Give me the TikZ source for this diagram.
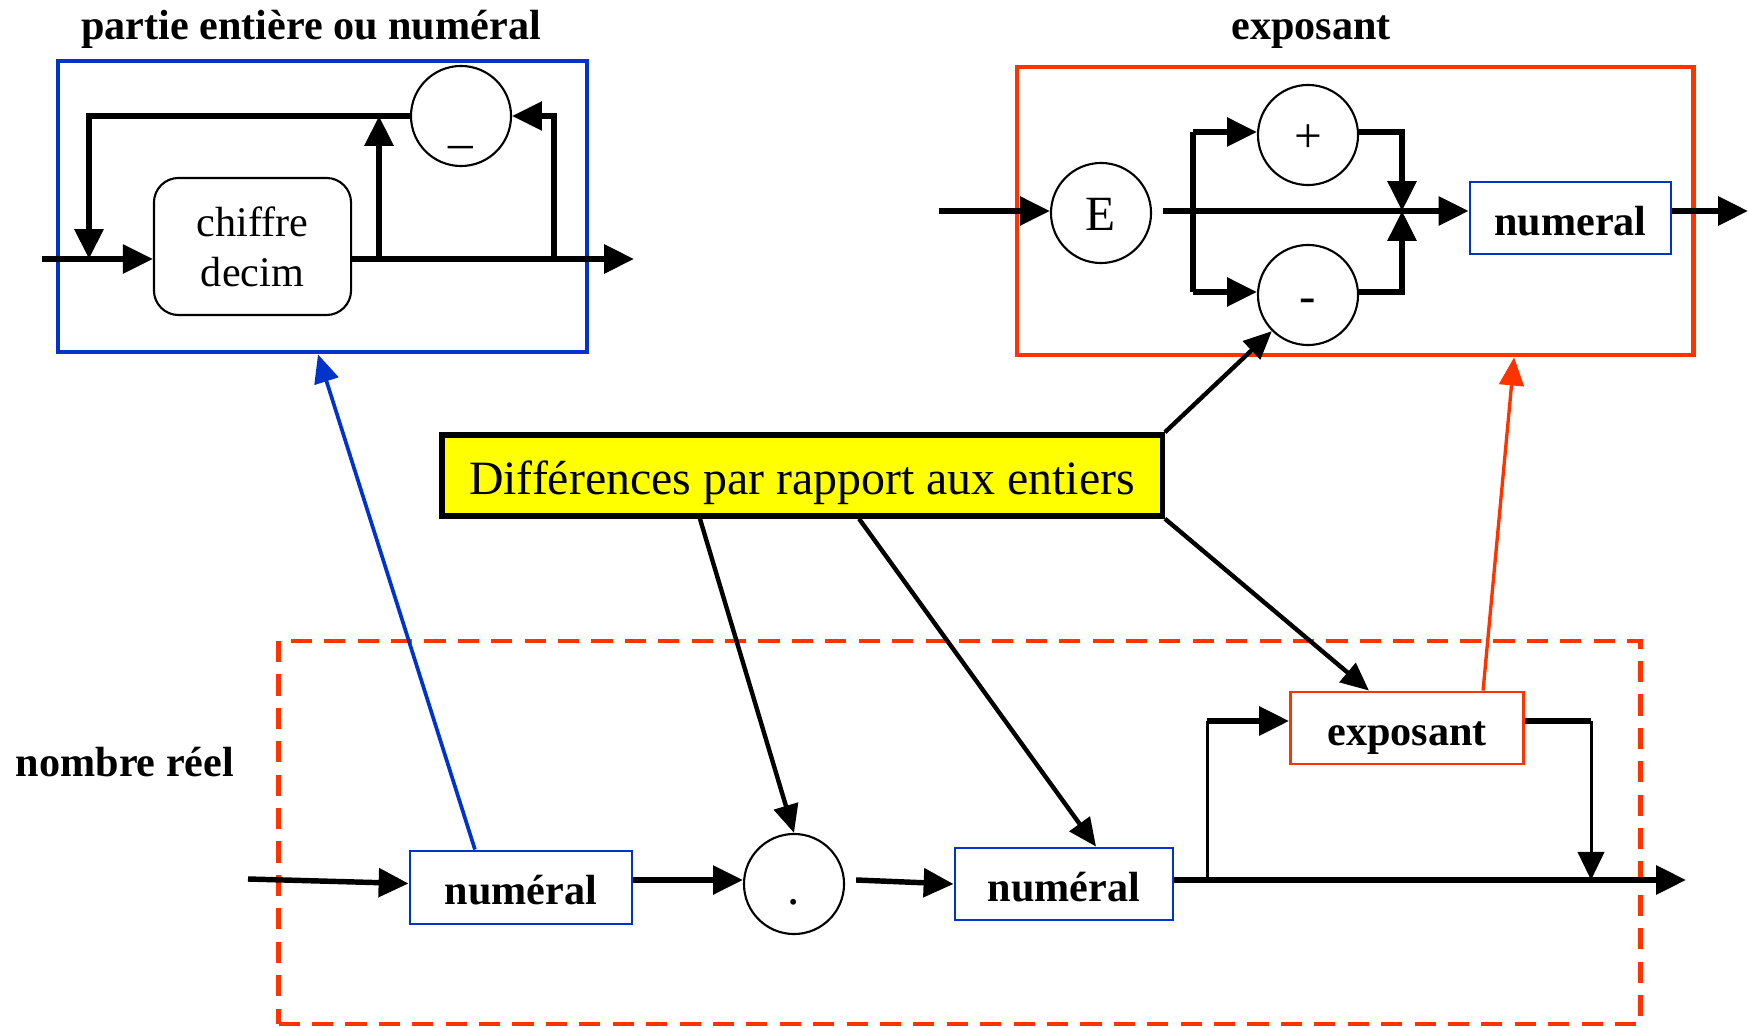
\documentclass[tikz,border=0pt]{standalone}
\usepackage{fontspec}
\setmainfont{Liberation Serif}
\usetikzlibrary{arrows.meta}
\definecolor{frameblue}{RGB}{0,51,204}
\definecolor{framered}{RGB}{255,51,0}
\definecolor{notefill}{RGB}{255,255,0}

\begin{document}
\begin{tikzpicture}[x=0.01cm, y=-0.01cm,
  tip/.style={-{Triangle[length=8.5pt,width=8pt]}},
  plain/.style={line width=1.55pt},
  wire/.style={plain, tip},
  thinline/.style={line width=0.85pt},
  thinwire/.style={thinline, -{Triangle[length=8pt,width=7.5pt]}},
  diag/.style={line width=1.25pt, -{Triangle[length=8pt,width=7pt]}},
  bluelink/.style={frameblue, line width=1.05pt, -{Triangle[length=8pt,width=7pt]}},
  redlink/.style={framered, line width=0.95pt, -{Triangle[length=8pt,width=7pt]}},
  heading/.style={inner sep=0pt, text height=8.4pt, text depth=0pt,
    font=\fontsize{12}{14}\selectfont\bfseries},
  circ/.style={draw, circle, line width=0.6pt, minimum size=1cm, inner sep=0pt,
    text height=9.8pt, text depth=0pt, font=\fontsize{14}{16}\selectfont},
  box/.style={draw=frameblue, line width=0.8pt, inner sep=0pt, minimum height=0.72cm,
    text height=9.8pt, text depth=0pt, font=\fontsize{12}{14}\selectfont\bfseries},
  rbox/.style={draw, rounded corners=7pt, line width=0.6pt, align=center,
    minimum width=1.97cm, minimum height=1.37cm, inner sep=0pt,
    font=\fontsize{12}{14.2}\selectfont},
  frame/.style={line width=1.3pt, inner sep=0pt},
  notebox/.style={draw, fill=notefill, line width=1.55pt, minimum width=7.2cm,
    minimum height=0.81cm, inner sep=0pt, text height=11pt, text depth=0pt,
    font=\fontsize{13.6}{16}\selectfont}
]
\useasboundingbox (0,0) rectangle (1749,1028);

% ---------- frames ----------
\node[frame, draw=frameblue, minimum width=5.29cm, minimum height=2.91cm] (fpart) at (322.5,206.5) {};
\node[frame, draw=framered, minimum width=6.76cm, minimum height=2.88cm] (fexp) at (1355,211) {};
\node[draw=framered, line width=1.25pt, dash pattern=on 6pt off 3.5pt, inner sep=0pt,
      minimum width=13.61cm, minimum height=3.83cm] (freel) at (959.5,832.5) {};

% ---------- headings ----------
\node[heading] (tpart) at (311,25) {partie entière ou numéral};
\node[heading] (texp) at (1311,25) {exposant};
\node[heading] (treel) at (125,762) {nombre réel};

% ---------- partie entière ou numéral ----------
\coordinate (pin) at (42,259);
\coordinate (pout) at (634,259);
\coordinate (jl) at (89,259);
\coordinate (ju) at (379,259);
\coordinate (jr) at (554,259);
\node[rbox] (chiffre) at (252.5,246.5) {chiffre\\decim};
\node[circ] (usc) at (461,116) {\raisebox{-2.5pt}{\_}};

\draw[wire] (pin) -- (chiffre.west |- pin);
\draw[wire] (chiffre.east |- pin) -- (pout);
\draw[wire] (ju) -- (ju |- usc);
\draw[wire] (usc.west) -| (jl);
\draw[wire] (jr) |- (usc.east);

% ---------- exposant ----------
\coordinate (ein) at (939,211);
\coordinate (estart) at (1163,211);
\coordinate (eout) at (1748,211);
\coordinate (bx) at (1193,211);
\coordinate (mx) at (1402,211);
\coordinate (py) at (0,132);
\coordinate (my) at (0,292);
\node[circ] (E) at (1101,213) {E};
\node[circ] (plus) at (1308,135) {+};
\node[circ] (minus) at (1308,295) {-};
\node[box, minimum width=2.01cm] (numx) at (1570.5,218) {numeral};

\draw[wire] (ein) -- (E.west |- ein);
\draw[wire] (estart) -- (numx.west |- estart);
\draw[plain] (bx |- py) -- (bx |- my);
\draw[wire] (bx |- py) -- (plus.west |- py);
\draw[wire] (bx |- my) -- (minus.west |- my);
\draw[wire] (plus.east |- py) -| (mx);
\draw[wire] (minus.east |- my) -| (mx);
\draw[wire] (numx.east |- eout) -- (eout);

% ---------- nombre réel ----------
\coordinate (rline) at (0,880);
\coordinate (rin) at (248,879);
\coordinate (rout) at (1686,880);
\coordinate (bb) at (1207,880);
\coordinate (mb) at (1591,880);
\coordinate (ebr) at (0,721);
\node[box, minimum width=2.22cm, minimum height=0.73cm] (num1) at (521,887.5) {numéral};
\node[circ] (dot) at (794,884) {\raisebox{-1pt}{.}};
\node[box, minimum width=2.18cm] (num2) at (1064,884) {numéral};
\node[box, draw=framered, minimum width=2.33cm] (expo) at (1407,728) {exposant};

\draw[wire] (rin) -- ([yshift=0.04cm]num1.west);
\draw[wire] (num1.east |- rline) -- (dot.west |- rline);
\draw[wire] ([xshift=0.11cm]dot.east |- rline) -- (num2.west);
\draw[wire] (num2.east |- rline) -- (rout);
\draw[thinline] (bb) -- (bb |- ebr);
\draw[wire] (bb |- ebr) -- (expo.west |- ebr);
\draw[plain] (expo.east |- ebr) -- (mb |- ebr);
\draw[thinwire] (mb |- ebr) -- (mb);

% ---------- note and its pointers ----------
\node[notebox] (diff) at (802,475.5) {Différences par rapport aux entiers};
\draw[diag] (diff.north east) -- (minus.225);
\draw[diag] ([xshift=-1.02cm]diff.south) -- (dot.north);
\draw[diag] ([xshift=0.57cm]diff.south) -- ([xshift=0.32cm]num2.north);
\draw[diag] (diff.south east) -- ([xshift=-0.38cm]expo.north);

% ---------- links to the detailed diagrams ----------
\draw[bluelink] ([xshift=-0.46cm]num1.north) -- ([xshift=-0.045cm]fpart.south);
\draw[redlink] ([xshift=0.76cm]expo.north) -- ([xshift=1.59cm]fexp.south);
\end{tikzpicture}
\end{document}
